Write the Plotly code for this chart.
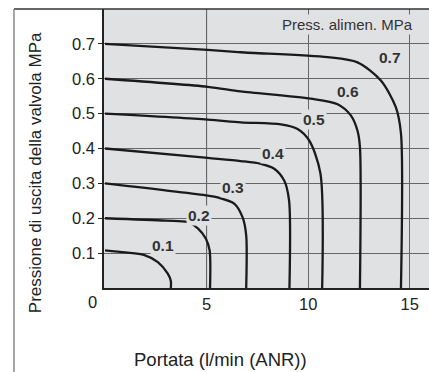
import plotly.graph_objects as go

# Outlet pressure curves: flow (l/min ANR) vs pressure (MPa), one per supply pressure
supply_labels = ["0.1", "0.2", "0.3", "0.4", "0.5", "0.6", "0.7"]

flow_01 = [0, 1.0, 1.91, 2.6, 3.09, 3.24, 3.24]
pres_01 = [0.108, 0.102, 0.095, 0.074, 0.041, 0.02, 0]

flow_02 = [0, 3.0, 4.07, 4.57, 4.96, 5.15, 5.17]
pres_02 = [0.200, 0.193, 0.189, 0.171, 0.142, 0.108, 0]

flow_03 = [0, 5.06, 5.54, 6.36, 6.77, 6.95, 6.95]
pres_03 = [0.300, 0.265, 0.260, 0.242, 0.203, 0.151, 0]

flow_04 = [0, 5.06, 6.68, 7.67, 8.33, 8.82, 9.06, 9.08]
pres_04 = [0.400, 0.373, 0.364, 0.356, 0.342, 0.308, 0.251, 0]

flow_05 = [0, 5.06, 6.68, 8.66, 9.48, 10.05, 10.6, 10.69]
pres_05 = [0.500, 0.483, 0.475, 0.469, 0.456, 0.423, 0.33, 0]

flow_06 = [0, 5.06, 6.68, 10.13, 11.45, 12.1, 12.43, 12.55, 12.55]
pres_06 = [0.600, 0.577, 0.564, 0.543, 0.527, 0.495, 0.451, 0.404, 0]

flow_07 = [0, 5.06, 6.68, 10.96, 12.43, 13.58, 14.32, 14.57, 14.57]
pres_07 = [0.700, 0.683, 0.676, 0.662, 0.647, 0.595, 0.518, 0.443, 0]

label_x = [2.83, 4.63, 6.32, 8.25, 10.3, 11.97, 14.02]
label_y = [0.122, 0.208, 0.289, 0.387, 0.483, 0.564, 0.66]

x_ticks = [5, 10, 15]
y_ticks = [0.1, 0.2, 0.3, 0.4, 0.5, 0.6, 0.7]

flows = [flow_01, flow_02, flow_03, flow_04, flow_05, flow_06, flow_07]
press = [pres_01, pres_02, pres_03, pres_04, pres_05, pres_06, pres_07]

BG = "#e0e1e3"
FONT = "Liberation Sans, Arial, sans-serif"

fig = go.Figure()
for fx, py in zip(flows, press):
    fig.add_trace(go.Scatter(x=fx, y=py, mode="lines",
                             line=dict(color="#1a1a1a", width=2.3, shape="spline", smoothing=0.8),
                             showlegend=False, hoverinfo="skip"))

annotations = []
for lx, ly, t in zip(label_x, label_y, supply_labels):
    annotations.append(dict(x=lx, y=ly, xref="x", yref="y", text="<b>" + t + "</b>", showarrow=False,
                            xanchor="center", yanchor="middle",
                            font=dict(family=FONT, size=15.5, color="#333"), bgcolor=BG, borderpad=1))

annotations.append(dict(x=11.94, y=0.7556, xref="x", yref="y", text="Press. alimen. MPa", showarrow=False,
                        xanchor="center", yanchor="middle",
                        font=dict(family=FONT, size=15, color="#333"), bgcolor=BG, borderpad=1))
annotations.append(dict(x=-0.212, y=0.412, xref="paper", yref="paper", text="Pressione di uscita della valvola MPa",
                        textangle=-90, showarrow=False, xanchor="center", yanchor="middle",
                        font=dict(family=FONT, size=17, color="#222")))
annotations.append(dict(x=0.357, y=-0.258, xref="paper", yref="paper", text="Portata (l/min (ANR))",
                        showarrow=False, xanchor="center", yanchor="middle",
                        font=dict(family=FONT, size=18.5, color="#222")))
annotations.append(dict(x=-0.034, y=-0.05, xref="paper", yref="paper", text="0",
                        showarrow=False, xanchor="center", yanchor="middle",
                        font=dict(family=FONT, size=16.5, color="#222")))

shapes = [
    dict(type="line", xref="paper", yref="paper", x0=-0.277, x1=1.0, y0=1.0, y1=1.0,
         line=dict(color="#333", width=1.5)),
    dict(type="line", xref="paper", yref="paper", x0=-0.277, x1=-0.277, y0=1.0, y1=-0.31,
         line=dict(color="#888", width=1.5)),
    dict(type="line", xref="x", yref="paper", x0=5, x1=5, y0=0, y1=1, layer="below",
         line=dict(color="#222", width=1)),
]

fig.update_layout(
    width=429, height=372,
    margin=dict(l=104, r=0, t=9, b=84),
    paper_bgcolor="white", plot_bgcolor=BG,
    font=dict(family=FONT, size=16.5, color="#222"),
    annotations=annotations, shapes=shapes,
    xaxis=dict(range=[-0.05, 15.95], tickvals=x_ticks, showgrid=True, gridcolor="#666", gridwidth=1,
               zeroline=False, showline=True, linecolor="#222", linewidth=1.5,
               ticks="", tickfont=dict(size=16.5)),
    yaxis=dict(range=[0, 0.8], tickvals=y_ticks, ticktext=[str(v) for v in y_ticks],
               showgrid=True, gridcolor="#666", gridwidth=1,
               zeroline=False, showline=True, linecolor="#222", linewidth=1.5,
               ticks="outside", ticklen=4, tickcolor="#222", tickfont=dict(size=16.5)),
)

fig.write_html("out.html")
